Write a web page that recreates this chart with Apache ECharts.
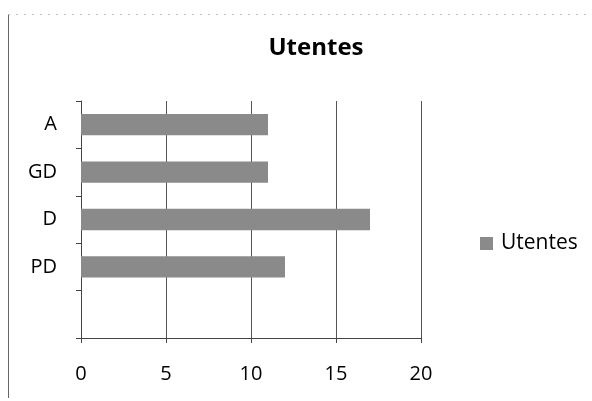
<!DOCTYPE html>
<html>
<head>
<meta charset="utf-8">
<script src="https://cdn.jsdelivr.net/npm/echarts@6/dist/echarts.min.js"></script>
<style>
html, body { margin: 0; padding: 0; background: #fff; }
#chart { width: 592px; height: 401px; }
</style>
</head>
<body>
<div id="chart"></div>
<script>
// categories from bottom to top (empty slot at the bottom)
var categories = ['', 'PD', 'D', 'GD', 'A']
var utentes = [null, 12, 17, 11, 11]
var xTicks = { min: 0, max: 20, interval: 5 }

var chart = echarts.init(document.getElementById('chart'))
var font = '"Open Sans", "Noto Sans", sans-serif'
var option = {
  animation: false,
  title: {
    text: 'Utentes',
    left: 311,
    top: 31,
    textAlign: 'center',
    textStyle: {
      fontFamily: font,
      fontSize: 24,
      fontWeight: 'bold',
      color: '#000'
    }
  },
  legend: {
    data: ['Utentes'],
    orient: 'vertical',
    left: 475,
    top: 228,
    icon: 'rect',
    itemWidth: 13,
    itemHeight: 13,
    itemGap: 4,
    textStyle: {
      fontFamily: font,
      fontSize: 21,
      color: '#000',
      padding: [0, 0, 0, 3]
    }
  },
  grid: {
    left: 81,
    right: 171,
    top: 101,
    bottom: 63,
    containLabel: false
  },
  xAxis: {
    type: 'value',
    min: xTicks.min,
    max: xTicks.max,
    interval: xTicks.interval,
    axisLine: { show: true, lineStyle: { color: '#444', width: 1 } },
    axisTick: { show: true, length: 5, lineStyle: { color: '#444' } },
    axisLabel: {
      margin: 26,
      fontFamily: font,
      fontSize: 20,
      color: '#000'
    },
    splitLine: { show: true, lineStyle: { color: '#555', width: 1 } }
  },
  yAxis: {
    type: 'category',
    data: categories,
    axisLine: { show: true, lineStyle: { color: '#444', width: 1 } },
    axisTick: { show: true, length: 5, lineStyle: { color: '#444' } },
    axisLabel: {
      margin: 24,
      fontFamily: font,
      fontSize: 20,
      color: '#000'
    }
  },
  series: [
    {
      name: 'Utentes',
      type: 'bar',
      data: utentes,
      barCategoryGap: '55%',
      itemStyle: { color: '#8a8a8a' }
    }
  ],
  graphic: [
    {
      type: 'line',
      shape: { x1: 8.5, y1: 15, x2: 8.5, y2: 398 },
      style: { stroke: '#666', lineWidth: 1 }
    },
    {
      type: 'line',
      shape: { x1: 8, y1: 14.5, x2: 592, y2: 14.5 },
      style: { stroke: '#bbb', lineWidth: 1, lineDash: [2, 6] }
    }
  ]
}
chart.setOption(option)
</script>
</body>
</html>
